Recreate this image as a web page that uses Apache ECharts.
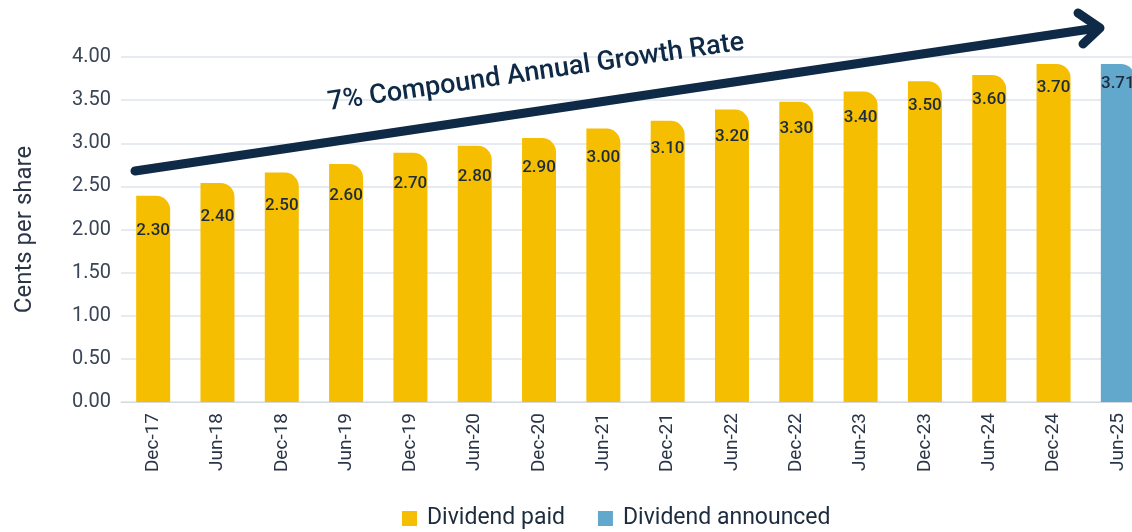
<!DOCTYPE html>
<html>
<head>
<meta charset="utf-8">
<script src="https://cdn.jsdelivr.net/npm/echarts@6/dist/echarts.min.js"></script>
<style>
  html, body { margin: 0; padding: 0; background: #fff; }
  #chart { width: 1132px; height: 532px; }
</style>
</head>
<body>
<div id="chart"></div>
<script>
// categories (half-years)
const periods = ['Dec-17', 'Jun-18', 'Dec-18', 'Jun-19', 'Dec-19', 'Jun-20', 'Dec-20', 'Jun-21',
                 'Dec-21', 'Jun-22', 'Dec-22', 'Jun-23', 'Dec-23', 'Jun-24', 'Dec-24', 'Jun-25'];
// bar heights as drawn in the picture
const paidHeights = [2.39, 2.54, 2.66, 2.76, 2.89, 2.97, 3.06, 3.17, 3.26, 3.39, 3.48, 3.60, 3.72, 3.79, 3.92, null];
const announcedHeights = [null, null, null, null, null, null, null, null, null, null, null, null, null, null, null, 3.92];
// printed values on the bars
const paidLabels = ['2.30', '2.40', '2.50', '2.60', '2.70', '2.80', '2.90', '3.00',
                    '3.10', '3.20', '3.30', '3.40', '3.50', '3.60', '3.70', ''];
const announcedLabels = ['', '', '', '', '', '', '', '', '', '', '', '', '', '', '', '3.71'];
const yTicks = [0, 0.5, 1, 1.5, 2, 2.5, 3, 3.5, 4];

const gold = '#F6BE00';
const blue = '#62A8CD';
const navy = '#0E2A47';
const font = 'Roboto';

let myChart = echarts.init(document.getElementById('chart'));

// label sits lower on the early bars, closer to the top on the later ones
function withLabel(values, labels, d0, d1) {
    return values.map((v, i) => ({
        value: v,
        label: { distance: d0 + (d1 - d0) * i / 14, formatter: labels[i] }
    }));
}

myChart.setOption({
    animation: false,
    textStyle: { fontFamily: font },
    grid: { left: 121, right: -18, top: 57, bottom: 130, outerBoundsMode: 'none' },
    legend: {
        left: 397,
        bottom: -3,
        icon: 'rect',
        itemWidth: 15,
        itemHeight: 15,
        itemGap: 33,
        textStyle: { fontSize: 23, color: '#1C2B3D', fontFamily: font, padding: [0, 0, 0, 5] },
        data: ['Dividend paid', 'Dividend announced']
    },
    xAxis: {
        type: 'category',
        data: periods,
        axisTick: { show: false },
        axisLine: { lineStyle: { color: '#D3D8DE', width: 1 } },
        axisLabel: { rotate: 90, margin: 11, fontSize: 19, color: '#2A3546', fontFamily: font }
    },
    yAxis: {
        type: 'value',
        min: yTicks[0],
        max: yTicks[yTicks.length - 1],
        interval: 0.5,
        name: 'Cents per share',
        nameLocation: 'middle',
        nameGap: 84,
        nameTextStyle: { fontSize: 24, color: '#2A3546', fontFamily: font },
        axisLabel: { fontSize: 20, color: '#3A4556', margin: 10, fontFamily: font,
                     formatter: v => v.toFixed(2) },
        splitLine: { lineStyle: { color: '#DCE5EC', width: 1.5 } },
        axisLine: { show: false },
        axisTick: { show: false }
    },
    graphic: [
        {
            type: 'polyline',
            shape: { points: [[135, 171], [1097, 28]] },
            style: { stroke: navy, lineWidth: 9, lineCap: 'round', fill: null },
            z: 10
        },
        {
            type: 'polyline',
            shape: { points: [[1078, 13], [1100, 28], [1083, 44]] },
            style: { stroke: navy, lineWidth: 9, lineCap: 'round', lineJoin: 'round', fill: null },
            z: 10
        },
        {
            type: 'text',
            x: 536,
            y: 73,
            rotation: 8.3 * Math.PI / 180,
            style: {
                text: '7% Compound Annual Growth Rate',
                fontSize: 27,
                fontWeight: 500,
                fontFamily: font,
                fill: navy,
                align: 'center',
                verticalAlign: 'middle'
            },
            z: 10
        }
    ],
    series: [
        {
            name: 'Dividend paid',
            type: 'bar',
            stack: 'div',
            barWidth: 34,
            itemStyle: { color: gold, borderRadius: [0, 14, 0, 0] },
            label: { show: true, position: 'insideTop', fontSize: 17, fontWeight: 500,
                     color: '#1C2B3D', fontFamily: font },
            data: withLabel(paidHeights, paidLabels, 26, 15)
        },
        {
            name: 'Dividend announced',
            type: 'bar',
            stack: 'div',
            barWidth: 34,
            itemStyle: { color: blue, borderRadius: [0, 14, 0, 0] },
            label: { show: true, position: 'insideTop', fontSize: 17, fontWeight: 500,
                     color: '#1C2B3D', fontFamily: font },
            data: withLabel(announcedHeights, announcedLabels, 11, 11)
        }
    ]
});
</script>
</body>
</html>
